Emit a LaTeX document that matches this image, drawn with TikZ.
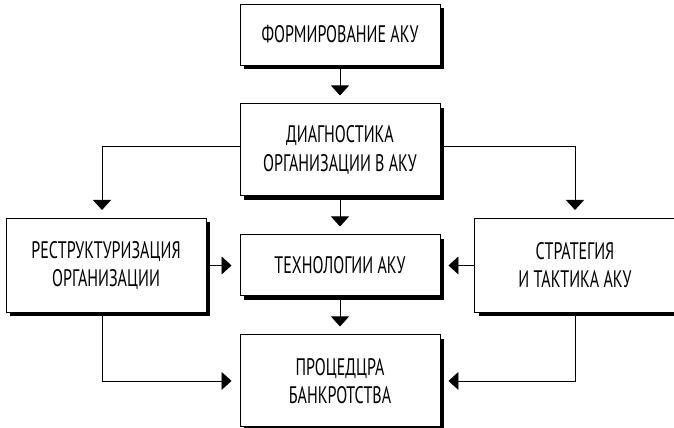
\documentclass[tikz,border=0pt]{standalone}
\usepackage{fontspec}
\setmainfont{PT Sans}[FakeStretch=0.67]
\usetikzlibrary{arrows.meta,positioning,shadows}

\tikzset{
  block/.style={rectangle,draw,line width=0.7pt,fill=white,minimum width=5cm,align=center,
    font=\fontsize{17}{20}\selectfont,
    drop shadow={opacity=1,shadow xshift=0.1cm,shadow yshift=-0.1cm,fill=black}},
  link/.style={-{Triangle[width=0.45cm,length=0.25cm]},line width=0.6pt,shorten >=0.2cm}
}

\begin{document}
\begin{tikzpicture}[node distance=0.95cm]
    \useasboundingbox (0,0) rectangle (16.85,-10.675);
    \node[block,minimum height=1.525cm] (form) at (8.5,-0.8625) {ФОРМИРОВАНИЕ АКУ};
    \node[block,minimum height=2.3cm,below=of form] (diag) {ДИАГНОСТИКА\\ОРГАНИЗАЦИИ В АКУ};
    \node[block,minimum height=1.525cm,below=of diag] (tech) {ТЕХНОЛОГИИ АКУ};
    \node[block,minimum height=2.35cm,left=0.825cm of tech] (restr) {РЕСТРУКТУРИЗАЦИЯ\\ОРГАНИЗАЦИИ};
    \node[block,minimum height=2.35cm,right=0.85cm of tech] (strat) {СТРАТЕГИЯ\\И ТАКТИКА АКУ};
    \node[block,minimum height=2.3cm,below=of tech] (proc) {ПРОЦЕДЦРА\\БАНКРОТСТВА};

    \draw[link] (form) -- (diag);
    \draw[link] (diag) -- (tech);
    \draw[link] (tech) -- (proc);
    \draw[link] ([yshift=0.1cm]diag.west) -| ([xshift=-0.1cm]restr.north);
    \draw[link] ([yshift=0.1cm]diag.east) -| (strat.north);
    \draw[link] (restr.east |- tech.west) -- (tech.west);
    \draw[link] (strat.west |- tech.east) -- (tech.east);
    \draw[link] ([xshift=-0.1cm]restr.south) |- (proc.west);
    \draw[link] (strat.south) |- (proc.east);
\end{tikzpicture}
\end{document}
